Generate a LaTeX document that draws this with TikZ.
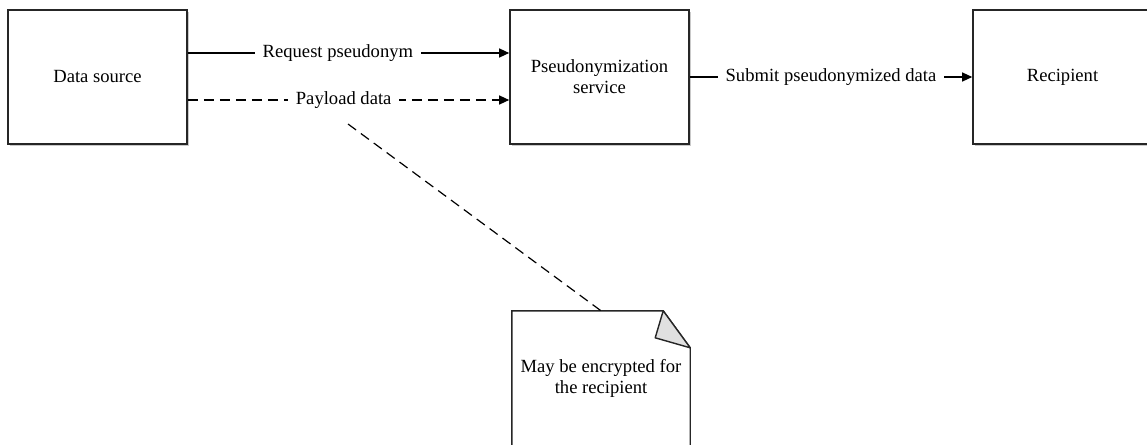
\documentclass[tikz,border=0pt]{standalone}
\usepackage{fontspec}
\setmainfont{Liberation Serif}
\usetikzlibrary{arrows.meta,shadows}
\begin{document}
\begin{tikzpicture}[x=1pt,y=-1pt,
  font=\fontsize{18.6}{21}\selectfont,
  boxnode/.style={draw=black!85, line width=1.6pt, fill=white, inner sep=0pt,
    minimum width=179pt, minimum height=134pt,
    drop shadow={shadow xshift=1.5pt, shadow yshift=-2pt, opacity=.35, fill=black!60}},
  conn/.style={line width=1.2pt, -{Triangle[length=10pt,width=9pt]}},
  dashconn/.style={conn, dash pattern=on 10pt off 6pt},
  lbl/.style={fill=white, inner xsep=8pt, inner ysep=2pt}]
\useasboundingbox (0,0) rectangle (1147,444);
\clip (0,0) rectangle (1147,444);
\fill[white] (0,0) rectangle (1147,444);
\node[boxnode] (src) at (97.5,77) {Data source};
\node[boxnode, align=center] (ps) at (599.5,77) {Pseudonymization\\service};
\node[boxnode] (rec) at (1062.5,77) {Recipient};
\draw[conn] (src.east |- 0,53) -- node[lbl, pos=0.467] {Request pseudonym} (ps.west |- 0,53);
\draw[dashconn] (src.east |- 0,100) -- node[lbl, pos=0.485] (pl) {Payload data} (ps.west |- 0,100);
\draw[conn] (ps.east) -- node[lbl] {Submit pseudonymized data} (rec.west);
% note
\node[minimum width=178pt, minimum height=134pt, inner sep=0pt, align=center] (note) at (601,378) {May be encrypted for\\the recipient};
\draw[line width=1.4pt, draw=black!85, line join=miter]
  (note.south west) -- (note.north west) -- ([xshift=-27pt]note.north east) -- ([yshift=-37pt]note.north east) -- (note.south east);
\filldraw[line width=1.4pt, draw=black!85, fill=black!12, line join=round]
  ([xshift=-27pt]note.north east) -- ([xshift=-35pt,yshift=-27pt]note.north east) -- ([yshift=-37pt]note.north east) -- cycle;
\coordinate (cstart) at (348,124);
\draw[line width=1.2pt, dash pattern=on 10pt off 6pt] (cstart) -- (note.north);
\end{tikzpicture}
\end{document}
